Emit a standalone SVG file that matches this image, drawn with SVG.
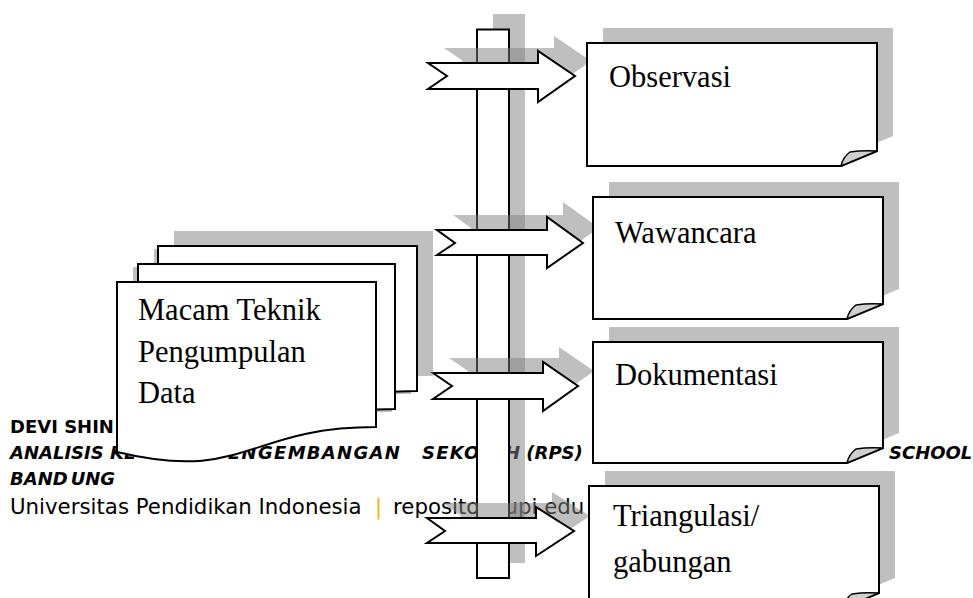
<svg xmlns="http://www.w3.org/2000/svg" width="973" height="598" viewBox="0 0 973 598">
<style>
.shadow{fill:#808080;fill-opacity:0.5}
.ln{fill:#fff;stroke:#000;stroke-width:2;stroke-linejoin:miter}
.fold{fill:#cfcfcf;stroke:#000;stroke-width:1.5;stroke-linejoin:round}
.lbl{font-family:"Liberation Serif","Times New Roman",serif;font-size:30.5px;fill:#000}
.ft{font-family:"DejaVu Sans",Verdana,sans-serif;fill:#000}
.bi{font-weight:bold;font-style:italic;font-size:18px}
.b{font-weight:bold;font-size:18px}
.r{font-size:21.3px}
</style>
<defs>
<path id="a1" d="M428,63 H538 V51 L575,76 L538,102 V89 H428 L447,76 Z"/>
<path id="a2" d="M437,230 H547 V217 L583,243 L547,268 V255 H437 L455,243 Z"/>
<path id="a3" d="M433,373 H543 V362 L578,386 L543,411 V399 H433 L452,386 Z"/>
<path id="a4" d="M427,518 H536 V507 L574,531 L536,556 V543 H427 L445,531 Z"/>
<path id="d1" d="M158,246 H417 V391 C287.5,391 287.5,447 158,416 Z"/>
<path id="d2" d="M138,264 H395 V409 C266.5,409 266.5,465 138,434 Z"/>
<path id="d3" d="M117,282 H376 V427 C246.5,427 246.5,483 117,452 Z"/>
</defs>

<g id="footer">
<text class="ft b" x="10" y="433">DEVI SHIN</text>
<text class="ft bi" y="459"><tspan x="10">ANALISIS KE</tspan><tspan x="228" letter-spacing="1.3">ENGEMBANGAN</tspan><tspan x="422" letter-spacing="1.3">SEKO</tspan><tspan x="505">H (RPS)</tspan><tspan x="889">SCHOOL</tspan></text>
<text class="ft bi" x="10" y="485">BAND<tspan dx="3">UNG</tspan></text>
<text class="ft r" y="514"><tspan x="10">Universitas Pendidikan Indonesia</tspan><tspan x="375" fill="#f5b400">|</tspan><tspan x="393">repository.upi.edu</tspan></text>
</g>

<g id="shadows">
<path class="shadow" d="M603,28 H893 V136 L857,151 H603 Z"/>
<path class="shadow" d="M609,182 H899 V289 L863,304 H609 Z"/>
<path class="shadow" d="M609,327 H899 V433 L863,448 H609 Z"/>
<path class="shadow" d="M605,471 H895 V578 L859,593 H605 Z"/>
<rect class="shadow" x="493" y="14" width="32" height="549"/>
</g>

<g id="connectors">
<rect class="ln" x="477" y="29.5" width="32" height="548.5"/>
<g class="shadow" transform="translate(16,-15)">
<use href="#a1"/><use href="#a2"/><use href="#a3"/><use href="#a4"/>
</g>
<use class="ln" href="#a1"/>
<use class="ln" href="#a2"/>
<use class="ln" href="#a3"/>
<use class="ln" href="#a4"/>
</g>

<g id="observasi">
<path class="ln" d="M587,43 H877 V151 L841,166 H587 Z"/>
<path class="fold" d="M841,166 Q843,157 850,152 Q862,150 877,151 Z"/>
<text class="lbl" x="609" y="87">Observasi</text>
</g>

<g id="wawancara">
<path class="ln" d="M593,197 H883 V304 L847,319 H593 Z"/>
<path class="fold" d="M847,319 Q849,310 856,305 Q868,303 883,304 Z"/>
<text class="lbl" x="615" y="243">Wawancara</text>
</g>

<g id="dokumentasi">
<path class="ln" d="M593,342 H883 V448 L847,463 H593 Z"/>
<path class="fold" d="M847,463 Q849,454 856,449 Q868,447 883,448 Z"/>
<text class="lbl" x="615" y="385">Dokumentasi</text>
</g>

<g id="triangulasi">
<path class="ln" d="M589,486 H879 V593 L843,608 H589 Z"/>
<path class="fold" d="M843,608 Q845,599 852,594 Q864,592 879,593 Z"/>
<text class="lbl" x="613" y="526">Triangulasi/</text>
<text class="lbl" x="613" y="572">gabungan</text>
</g>

<g id="macam-teknik">
<g fill="#808080" opacity="0.5" transform="translate(16,-15)">
<use href="#d1"/><use href="#d2"/><use href="#d3"/>
</g>
<use class="ln" href="#d1"/>
<use class="ln" href="#d2"/>
<use class="ln" href="#d3"/>
<text class="lbl" x="138" y="320">Macam Teknik</text>
<text class="lbl" x="138" y="362">Pengumpulan</text>
<text class="lbl" x="138" y="403">Data</text>
</g>
</svg>
